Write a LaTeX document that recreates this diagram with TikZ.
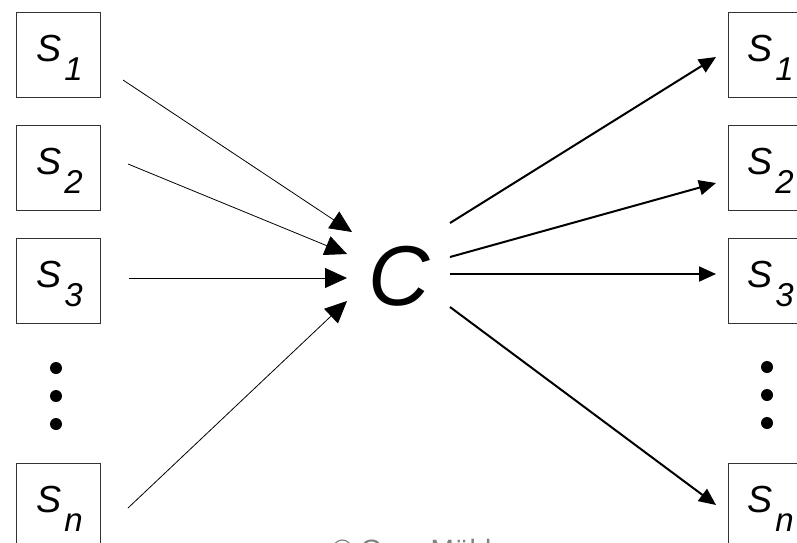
\documentclass[tikz,border=0pt]{standalone}
\usepackage{fontspec}
\setmainfont{Liberation Sans}
\usetikzlibrary{arrows.meta}
\tikzset{
  sbox/.style={draw=black!80, line width=0.8pt, minimum width=84pt, minimum height=85pt, inner sep=0pt},
  slabel/.style={anchor=base west, inner sep=0pt, font=\fontsize{37.7}{40}\selectfont\itshape},
  inarrow/.style={line width=0.8pt, -{Triangle[length=22pt,width=20pt]}},
  outarrow/.style={line width=2pt, -{Triangle[length=17pt,width=15pt]}},
  dot/.style={circle, fill=black, minimum size=12pt, inner sep=0pt},
}
\newcommand{\sub}[1]{\kern3pt\raisebox{-19pt}{\fontsize{33}{35}\selectfont #1}}
\begin{document}
\begin{tikzpicture}[x=1pt,y=-1pt]
\useasboundingbox (0,0) rectangle (797,542);
\clip (0,0) rectangle (797,542);
% left boxes
\node[sbox] (ls1) at (58,54.5) {};
\node[sbox] (ls2) at (58,167.5) {};
\node[sbox] (ls3) at (58,280.5) {};
\node[sbox] (lsn) at (58,505.5) {};
\node[slabel] (tls1) at (36,61.5) {S\sub{1}};
\node[slabel] (tls2) at (36,174.5) {S\sub{2}};
\node[slabel] (tls3) at (36,287.5) {S\sub{3}};
\node[slabel] (tlsn) at (36,512.5) {S\sub{n}};
% right boxes
\node[sbox] (rs1) at (770,54.5) {};
\node[sbox] (rs2) at (770,167.5) {};
\node[sbox] (rs3) at (770,280.5) {};
\node[sbox] (rsn) at (770,505.5) {};
\node[slabel] (trs1) at (747,61.5) {S\sub{1}};
\node[slabel] (trs2) at (747,174.5) {S\sub{2}};
\node[slabel] (trs3) at (747,287.5) {S\sub{3}};
\node[slabel] (trsn) at (747,512.5) {S\sub{n}};
% dots
\node[dot] (ld1) at (56,368) {};
\node[dot] (ld2) at (56,396) {};
\node[dot] (ld3) at (56,424) {};
\node[dot] (rd1) at (767,367) {};
\node[dot] (rd2) at (767,395) {};
\node[dot] (rd3) at (767,423) {};
% center
\node[anchor=base, inner sep=0pt, font=\fontsize{85}{90}\selectfont\itshape] (c) at (399,305) {C};
% connector end points
\coordinate (a1) at (123,80);  \coordinate (b1) at (352,232);
\coordinate (a2) at (128,164); \coordinate (b2) at (347,254);
\coordinate (a3) at (129,278); \coordinate (b3) at (347,278);
\coordinate (a4) at (128,508); \coordinate (b4) at (347,301);
\coordinate (c1) at (450,223); \coordinate (d1) at (716,57);
\coordinate (c2) at (450,257); \coordinate (d2) at (716,183);
\coordinate (c3) at (450,274); \coordinate (d3) at (716,274);
\coordinate (c4) at (450,307); \coordinate (d4) at (716,505);
\draw[inarrow] (a1) -- (b1);
\draw[inarrow] (a2) -- (b2);
\draw[inarrow] (a3) -- (b3);
\draw[inarrow] (a4) -- (b4);
\draw[outarrow] (c1) -- (d1);
\draw[outarrow] (c2) -- (d2);
\draw[outarrow] (c3) -- (d3);
\draw[outarrow] (c4) -- (d4);
% copyright
\node[anchor=base west, inner sep=0pt, text=black!50, font=\fontsize{28}{30}\selectfont] (copy) at (332,559) {© Gero Mühl};
\end{tikzpicture}
\end{document}
